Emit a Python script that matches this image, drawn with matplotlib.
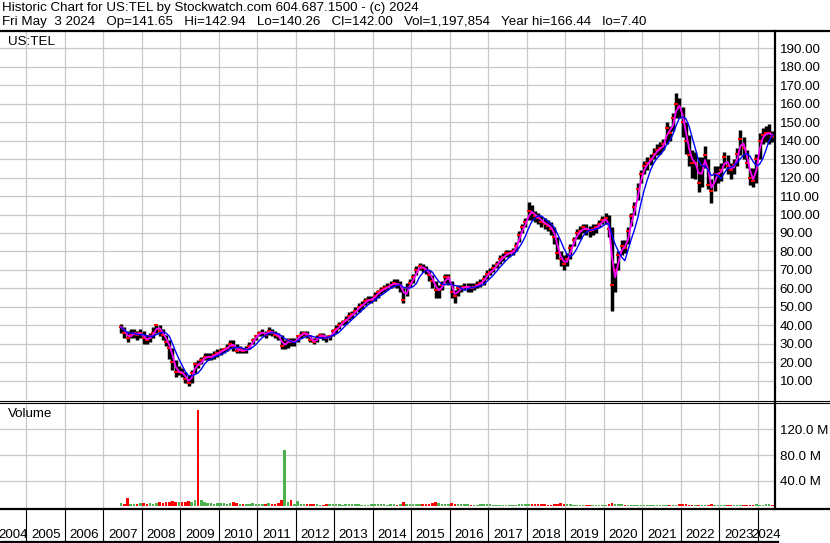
import numpy as np
import pandas as pd
import matplotlib
matplotlib.use('Agg')
import matplotlib.pyplot as plt

plt.rcParams['font.family'] = ['Liberation Sans', 'DejaVu Sans']

# monthly bars, Jun 2007 .. May 2024
first_year, first_month = 2007, 6

close = [39, 36, 33, 35, 36, 35, 36,
         33, 32, 34, 36, 40, 37, 35, 31, 28, 20, 15, 15,
         14, 11, 9, 14, 19, 18.5, 21, 23, 23, 23, 24, 25,
         26, 27, 28, 30, 29, 26, 27, 26, 27, 29, 32, 34,
         36, 36, 35, 37, 36, 35, 34, 29, 30, 32, 31, 31,
         34, 35, 36, 35, 32, 31, 33, 35, 34, 33, 34, 37,
         38, 40, 42, 43, 45, 46, 48, 50, 51, 53, 54, 54,
         56, 58, 59, 60, 61, 62, 63, 62, 62, 54, 60, 63,
         66, 70, 72, 71, 70, 67, 64, 59, 59, 62, 66, 66,
         58, 56, 60, 60, 61, 61, 60, 61, 62, 63, 65, 68,
         69, 71, 73, 76, 77, 79, 79, 80, 83, 89, 93, 96,
         102, 101, 99, 98, 96, 95, 94, 92, 88, 79, 76, 73,
         76, 82, 86, 90, 91, 93, 92, 91, 92, 93, 95, 97,
         98, 92, 62, 70, 78, 83, 82, 91, 99, 104, 114, 122,
         126, 128, 130, 133, 135, 136, 138, 147, 144, 152, 160, 158,
         150, 140, 132, 128, 128, 117, 127, 132, 116, 113, 122, 122,
         124, 131, 126, 124, 127, 133, 141, 136, 128, 120, 118, 130,
         140, 143, 144, 144, 142]

high = [41, 39, 37, 38, 38, 37, 38,
        37, 35, 36, 39, 41, 40, 38, 35, 32, 28, 21, 18,
        17, 15, 13, 16, 20, 21, 23, 25, 25, 25, 26, 27,
        28, 28, 30, 32, 32, 30, 29, 28, 29, 31, 33, 35,
        37, 38, 37, 39, 38, 37, 36, 35, 32, 33, 33, 33,
        35, 37, 37, 37, 35, 33, 35, 36, 36, 35, 35, 38,
        40, 42, 43, 45, 47, 48, 50, 52, 53, 55, 56, 56,
        58, 59, 61, 62, 63, 64, 65, 65, 64, 60, 63, 65,
        68, 72, 74, 73, 72, 70, 67, 64, 62, 64, 68, 68,
        64, 59, 62, 62, 63, 63, 63, 63, 64, 65, 67, 70,
        71, 73, 75, 78, 79, 81, 81, 82, 85, 91, 95, 98,
        107, 105, 102, 101, 99, 98, 97, 96, 93, 88, 80, 78,
        79, 84, 88, 92, 94, 95, 95, 94, 95, 95, 97, 99,
        101, 100, 93, 74, 80, 86, 86, 93, 101, 107, 117, 124,
        129, 131, 133, 136, 138, 139, 141, 150, 148, 155, 166, 163,
        158, 150, 143, 135, 134, 131, 131, 137, 130, 119, 126, 126,
        128, 134, 132, 128, 130, 136, 146, 142, 135, 125, 125, 133,
        144, 147, 148, 149, 145]

low = [36, 33, 31, 33, 33, 32, 33,
       30, 30, 31, 33, 36, 34, 32, 29, 22, 16, 12, 13,
       12, 9, 7.4, 9, 14, 17, 19, 21, 21, 21, 22, 23,
       24, 25, 26, 28, 26, 25, 25, 25, 25, 27, 30, 32,
       34, 34, 33, 35, 34, 33, 32, 27, 27, 28, 29, 29,
       31, 33, 34, 33, 31, 30, 31, 33, 32, 31, 32, 34,
       36, 38, 40, 41, 43, 44, 46, 47, 49, 51, 52, 52,
       53, 55, 57, 58, 59, 60, 61, 60, 58, 52, 56, 61,
       63, 67, 70, 69, 68, 64, 60, 55, 55, 59, 63, 62,
       55, 52, 56, 58, 59, 58, 58, 59, 60, 61, 62, 65,
       67, 69, 71, 73, 75, 77, 77, 78, 80, 85, 90, 93,
       97, 97, 96, 95, 93, 92, 91, 89, 84, 76, 72, 70,
       72, 76, 83, 87, 87, 90, 89, 88, 89, 90, 93, 95,
       95, 88, 48, 58, 70, 78, 79, 84, 94, 100, 108, 117,
       122, 124, 127, 130, 132, 133, 135, 138, 140, 145, 152, 152,
       142, 133, 126, 120, 119, 112, 115, 125, 114, 106, 113, 117,
       118, 125, 122, 119, 122, 126, 132, 130, 125, 116, 115, 117,
       130, 138, 139, 138, 139]

# volume in millions of shares
volume = [5, 4, 12, 4, 4, 4, 5,
          5, 4, 5, 4, 5, 6, 5, 6, 7, 8, 7, 6,
          6, 7, 8, 7, 9, 150, 9, 6, 5, 5, 4, 5,
          5, 5, 4, 5, 6, 5, 4, 4, 4, 4, 5, 4,
          4, 4, 4, 5, 4, 4, 5, 10, 88, 6, 9, 4,
          8, 3, 3, 3, 3, 3, 3, 2, 2, 3, 3, 3,
          3, 3, 2, 3, 3, 3, 4, 3, 2, 2, 2, 3,
          3, 3, 3, 3, 2, 3, 3, 2, 4, 6, 3, 3,
          3, 3, 3, 3, 3, 3, 5, 6, 5, 4, 3, 4,
          5, 4, 3, 3, 3, 3, 2, 2, 2, 3, 3, 3,
          3, 2, 2, 2, 2, 2, 2, 2, 2, 3, 3, 3,
          3, 3, 3, 3, 3, 3, 2, 2, 3, 4, 5, 4,
          3, 3, 2, 2, 2, 2, 2, 2, 2, 2, 2, 2,
          2, 3, 5, 4, 3, 3, 2, 2, 2, 2, 2, 2,
          2, 2, 2, 2, 2, 2, 2, 2, 2, 2, 2, 3,
          3, 3, 2, 2, 2, 2, 2, 2, 2, 3, 2, 2,
          2, 2, 2, 2, 2, 2, 2, 2, 2, 2, 2, 3,
          2, 2, 3, 3, 2]

price_ticks = list(range(10, 200, 10))
volume_ticks = [40, 80, 120]
years = list(range(2004, 2025))

header1 = 'Historic Chart for US:TEL by Stockwatch.com 604.687.1500 - (c) 2024'
header2 = ('Fri May  3 2024   Op=141.65   Hi=142.94   Lo=140.26   Cl=142.00   '
           'Vol=1,197,854   Year hi=166.44   lo=7.40')

# ---------------------------------------------------------------
n = len(close)
t = first_year + (np.arange(n) + first_month - 1 + 0.5) / 12
s = pd.Series(close)
ma_fast = s.rolling(2, min_periods=1).mean()
ma_slow = s.rolling(5, min_periods=1).mean()
vol_col = ['#ff0000' if d < 0 else '#4cb04c' for d in s.diff().fillna(0)]

W, H = 830, 543
x0, x1 = 2004.312, 2024.416
grid = '#c8c8c8'
fs = 9.6

fig = plt.figure(figsize=(W / 100, H / 100), dpi=100)

def frac(top, bottom):
    return (H - bottom) / H, (bottom - top) / H

# price panel
b, h = frac(32, 400)
ax = fig.add_axes([0, b, 774 / W, h])
ax.set_xlim(x0, x1)
ax.set_ylim(-0.4, 198.8)
for y in years[1:]:
    ax.axvline(y, color=grid, lw=0.9, zorder=0)
for v in price_ticks:
    ax.axhline(v, color=grid, lw=0.9, zorder=0)
ax.vlines(t, low, high, color='black', lw=2.5, zorder=2)
ax.plot(t, close, ls='none', marker='_', color='red', ms=3, mew=1.5, zorder=3)
ax.plot(t, ma_fast, color='#ff00ff', lw=1.3, zorder=4)
ax.plot(t, ma_slow, color='#0000ff', lw=1.0, zorder=5)
ax.set_xticks([])
ax.yaxis.tick_right()
ax.set_yticks(price_ticks)
ax.set_yticklabels([f'{v:.2f}' for v in price_ticks])
ax.tick_params(axis='y', length=0, pad=4, labelsize=fs)
for sp in ax.spines.values():
    sp.set_visible(False)

# volume panel
b, h = frac(402, 508)
axv = fig.add_axes([0, b, 774 / W, h])
axv.set_xlim(x0, x1)
axv.set_ylim(-3, 163)
for y in years[1:]:
    axv.axvline(y, color=grid, lw=0.9, zorder=0)
for v in volume_ticks:
    axv.axhline(v, color=grid, lw=0.9, zorder=0)
axv.bar(t, volume, width=0.8 / 12, color=vol_col, bottom=0, zorder=2)
axv.set_xticks([])
axv.yaxis.tick_right()
axv.set_yticks(volume_ticks)
axv.set_yticklabels([f'{v:.1f} M' for v in volume_ticks])
axv.tick_params(axis='y', length=0, pad=4, labelsize=fs)
for sp in axv.spines.values():
    sp.set_visible(False)

# date strip
b, h = frac(510, 541)
axd = fig.add_axes([0, b, 774 / W, h])
axd.set_xlim(x0, x1)
axd.set_ylim(0, 1)
axd.axis('off')
for y in years[1:]:
    axd.axvline(y, color='black', lw=0.8)
for y in years:
    lo_, hi_ = max(y, x0), min(y + 1, x1)
    axd.text((lo_ + hi_) / 2, 0.2, str(y), ha='center', va='center',
             fontsize=fs, clip_on=False)

# frame lines and captions in pixel coordinates
axo = fig.add_axes([0, 0, 1, 1])
axo.set_xlim(0, W)
axo.set_ylim(H, 0)
axo.axis('off')
axo.patch.set_alpha(0)
axo.plot([0, W], [31, 31], color='black', lw=1.6)
axo.plot([0, W], [400.5, 400.5], color='black', lw=0.8)
axo.plot([0, W], [402.5, 402.5], color='black', lw=0.8)
axo.plot([0, W], [509, 509], color='black', lw=1.6)
axo.plot([774.5, 774.5], [31, 509], color='black', lw=1.6)
axo.plot([0, 778], [541.5, 541.5], color='black', lw=1.6)
axo.text(2, 1.5, header1, fontsize=fs, va='top')
axo.text(2, 15.5, header2, fontsize=fs, va='top')
axo.text(8, 36, 'US:TEL', fontsize=fs, va='top')
axo.text(8, 408, 'Volume', fontsize=fs, va='top')

fig.savefig('out.png', dpi=100)
